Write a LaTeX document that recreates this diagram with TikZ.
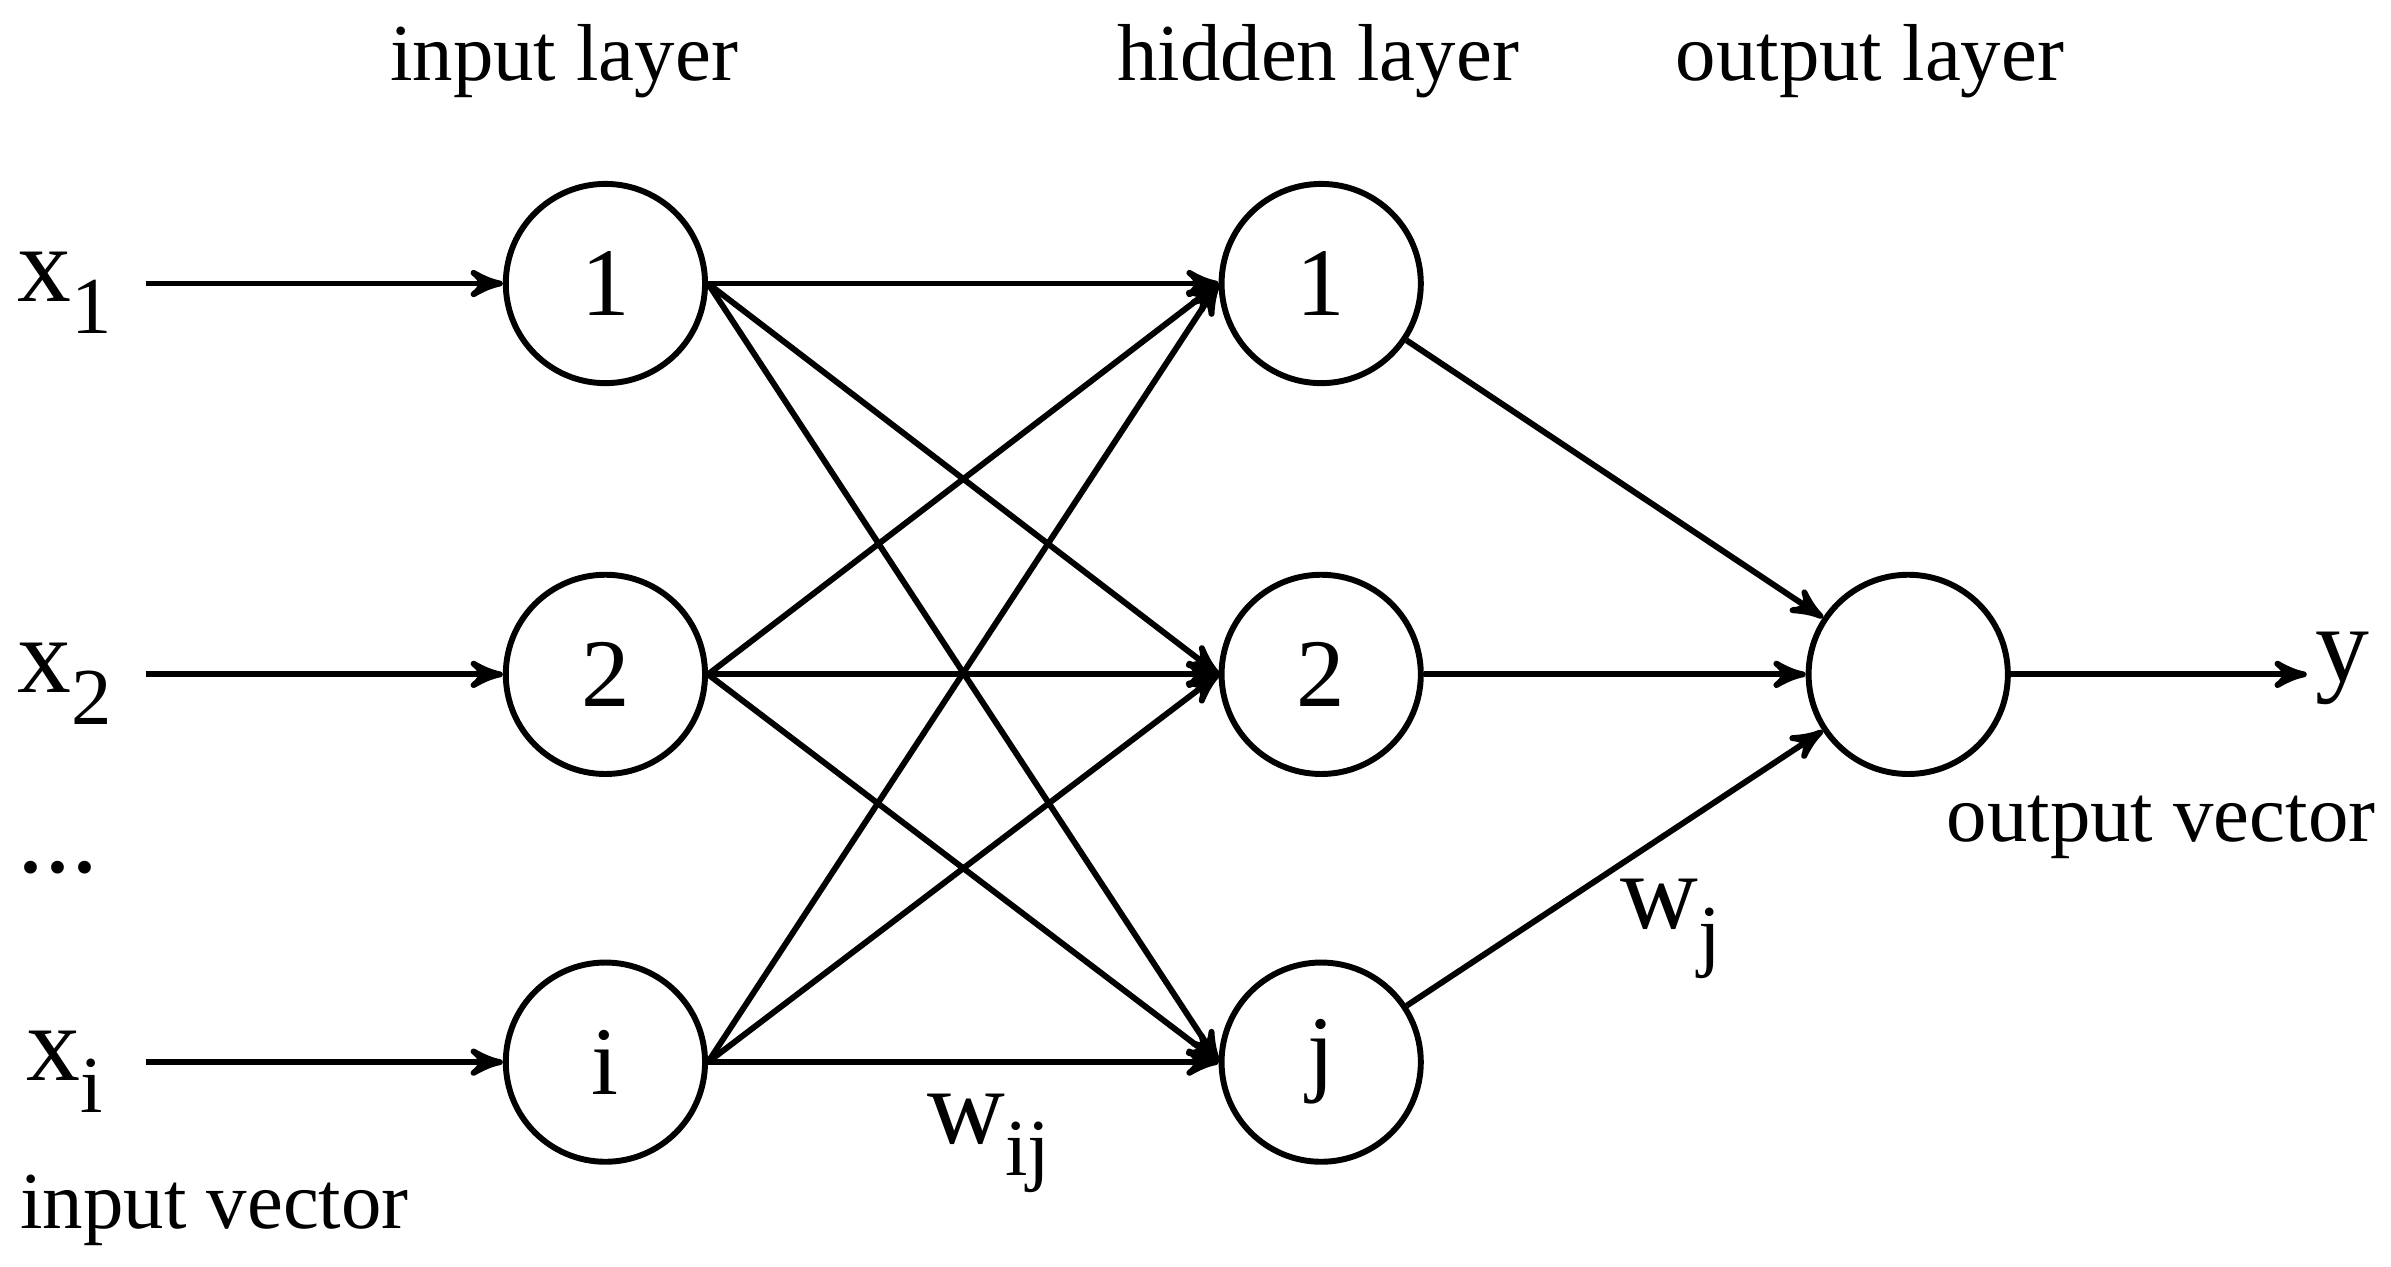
\documentclass[tikz,border=0pt]{standalone}
\usepackage{fontspec}
\setmainfont{Liberation Serif}
\usetikzlibrary{arrows, positioning}

\begin{document}
\begin{tikzpicture}[>=stealth', line width=1.1pt,
    neuron/.style={circle, draw, minimum size=1.3cm, inner sep=0pt, font=\fontsize{18}{20}\selectfont},
    lbl/.style={font=\fontsize{15}{17}\selectfont},
    var/.style={font=\fontsize{20}{22}\selectfont}]
    \useasboundingbox (0,0) rectangle (15.6,8.26);

    % input layer
    \node[neuron] (i1) at (3.95,6.41) {1};
    \node[neuron] (i2) at (3.95,3.86) {2};
    \node[neuron] (ii) at (3.95,1.33) {i};
    % hidden layer
    \node[neuron] (h1) at (8.62,6.41) {1};
    \node[neuron] (h2) at (8.62,3.86) {2};
    \node[neuron] (hj) at (8.62,1.33) {j};
    % output layer
    \node[neuron] (o) at (12.45,3.86) {};

    \node[var] (x1) at (0.42,6.35) {x\raisebox{-0.65ex}{\fontsize{15}{17}\selectfont 1}};
    \node[var] (x2) at (0.42,3.8) {x\raisebox{-0.65ex}{\fontsize{15}{17}\selectfont 2}};
    \node[var] (xi) at (0.42,1.27) {x\raisebox{-0.65ex}{\fontsize{15}{17}\selectfont i}};
    \node[var] at (0.38,2.6) {...};
    \node[var] (y) at (15.28,3.9) {y};

    \coordinate (a1) at (0.95,6.41);
    \coordinate (a2) at (0.95,3.86);
    \coordinate (ai) at (0.95,1.33);
    \coordinate (ay) at (15.05,3.86);

    \node[lbl] at (3.68,7.86) {input layer};
    \node[lbl] at (8.6,7.86) {hidden layer};
    \node[lbl] at (12.2,7.86) {output layer};
    \node[lbl] at (14.1,2.86) {output vector};
    \node[lbl] at (1.4,0.36) {input vector};
    \node[var] at (6.45,0.8) {w\raisebox{-0.65ex}{\fontsize{15}{17}\selectfont ij}};
    \node[var] at (10.9,2.2) {w\raisebox{-0.65ex}{\fontsize{15}{17}\selectfont j}};

    \draw[->] (a1) -- (i1);
    \draw[->] (a2) -- (i2);
    \draw[->] (ai) -- (ii);
    \foreach \s in {i1,i2,ii}
        \foreach \t in {h1,h2,hj}
            \draw[->] (\s.east) -- (\t.west);
    \foreach \s in {h1,h2,hj}
        \draw[->] (\s) -- (o);
    \draw[->] (o) -- (ay);
\end{tikzpicture}
\end{document}
